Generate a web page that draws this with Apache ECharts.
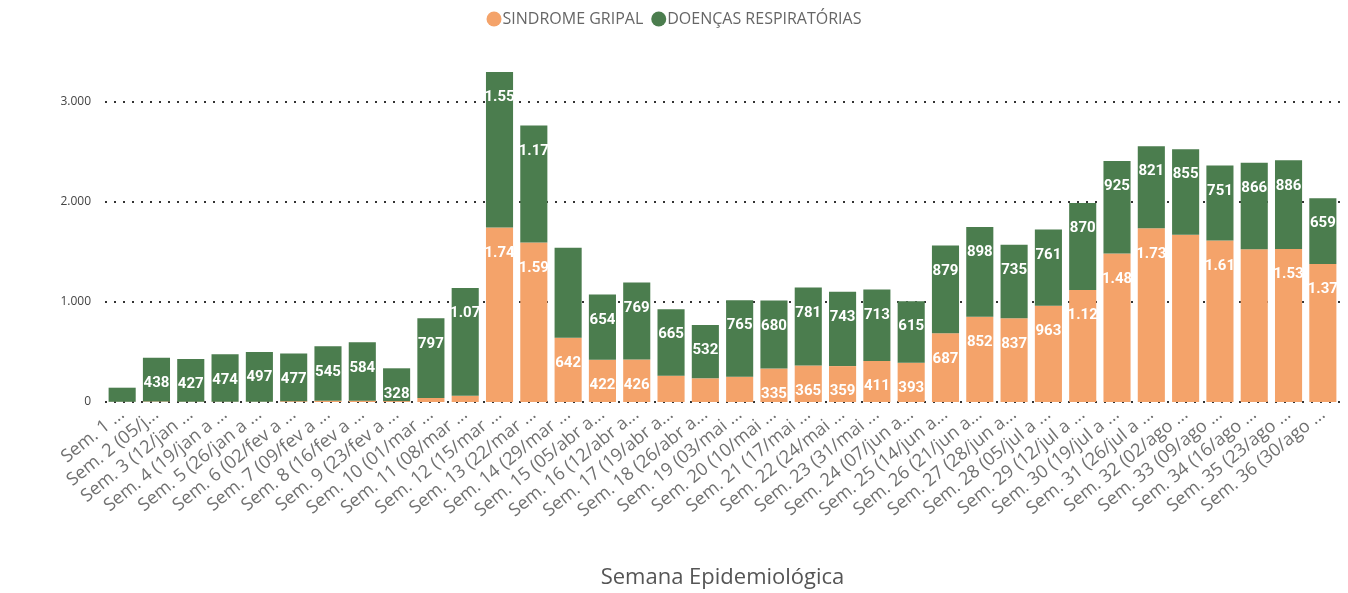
<!DOCTYPE html>
<html>
<head>
<meta charset="utf-8">
<script src="https://cdn.jsdelivr.net/npm/echarts@6/dist/echarts.min.js"></script>
<style>
  html, body { margin: 0; padding: 0; background: #ffffff; }
  #chart { width: 1348px; height: 593px; }
</style>
</head>
<body>
<div id="chart"></div>
<script>
const weeks = [
  'Sem. 1 ...', 'Sem. 2 (05/j...', 'Sem. 3 (12/jan ...', 'Sem. 4 (19/jan a ...',
  'Sem. 5 (26/jan a ...', 'Sem. 6 (02/fev a ...', 'Sem. 7 (09/fev a ...', 'Sem. 8 (16/fev a ...',
  'Sem. 9 (23/fev a ...', 'Sem. 10 (01/mar ...', 'Sem. 11 (08/mar ...', 'Sem. 12 (15/mar ...',
  'Sem. 13 (22/mar ...', 'Sem. 14 (29/mar ...', 'Sem. 15 (05/abr a...', 'Sem. 16 (12/abr a...',
  'Sem. 17 (19/abr a...', 'Sem. 18 (26/abr a...', 'Sem. 19 (03/mai ...', 'Sem. 20 (10/mai ...',
  'Sem. 21 (17/mai ...', 'Sem. 22 (24/mai ...', 'Sem. 23 (31/mai ...', 'Sem. 24 (07/jun a...',
  'Sem. 25 (14/jun a...', 'Sem. 26 (21/jun a...', 'Sem. 27 (28/jun a...', 'Sem. 28 (05/jul a ...',
  'Sem. 29 (12/jul a ...', 'Sem. 30 (19/jul a ...', 'Sem. 31 (26/jul a ...', 'Sem. 32 (02/ago ...',
  'Sem. 33 (09/ago ...', 'Sem. 34 (16/ago ...', 'Sem. 35 (23/ago ...', 'Sem. 36 (30/ago ...'
]

// SINDROME GRIPAL
const gripal = [
  2, 5, 3, 3, 3, 8, 12, 13, 9, 40, 62, 1746,
  1594, 642, 422, 426, 263, 237, 253, 335, 365, 359, 411, 393,
  687, 852, 837, 963, 1121, 1484, 1737, 1673, 1614, 1527, 1531, 1379
]

// DOENÇAS RESPIRATÓRIAS
const respiratorias = [
  141, 438, 427, 474, 497, 477, 545, 584, 328, 797, 1078, 1553,
  1172, 901, 654, 769, 665, 532, 765, 680, 781, 743, 713, 615,
  879, 898, 735, 761, 870, 925, 821, 855, 751, 866, 886, 659
]

// labels that the original leaves out (0-based bar index)
const gripalNoLabel = [0, 1, 2, 3, 4, 5, 6, 7, 8, 9, 10, 16, 17, 18, 31, 33]
const respNoLabel = [0, 13]

const yTicks = [0, 1000, 2000, 3000]

const fmt = v => String(v).replace(/\B(?=(\d{3})+(?!\d))/g, '.')

const labelStyle = {
  show: true,
  position: 'insideTop',
  distance: 18,
  color: '#ffffff',
  fontFamily: 'Roboto, sans-serif',
  fontWeight: 'bold',
  fontSize: 15,
  width: 33,
  overflow: 'truncate',
  ellipsis: '',
  formatter: p => fmt(p.value)
}

function toData (values, hidden) {
  return values.map((v, i) => hidden.includes(i) ? { value: v, label: { show: false } } : v)
}

const chart = echarts.init(document.getElementById('chart'))

chart.setOption({
  animation: false,
  textStyle: { fontFamily: '"Open Sans", "Noto Sans", sans-serif' },
  legend: {
    top: 6,
    left: 'center',
    icon: 'circle',
    itemWidth: 15,
    itemHeight: 15,
    itemGap: 8,
    textStyle: { color: '#666666', fontSize: 16, padding: [0, 0, 0, -4] },
    data: ['SINDROME GRIPAL', 'DOENÇAS RESPIRATÓRIAS']
  },
  grid: {
    left: 105,
    right: 8,
    top: 52,
    bottom: 191,
    outerBoundsMode: 'none',
    containLabel: false
  },
  xAxis: {
    type: 'category',
    data: weeks,
    name: 'Semana Epidemiológica',
    nameLocation: 'middle',
    nameGap: 165,
    nameTextStyle: { color: '#555555', fontSize: 22 },
    axisLine: { show: false },
    axisTick: { show: false },
    axisLabel: {
      interval: 0,
      rotate: 39,
      margin: 10,
      color: '#707070',
      fontSize: 18
    }
  },
  yAxis: {
    type: 'value',
    min: 0,
    max: 3500,
    interval: 1000,
    axisLine: { show: false },
    axisTick: { show: false },
    axisLabel: {
      showMaxLabel: false,
      color: '#444444',
      fontSize: 12,
      margin: 14,
      formatter: v => yTicks.includes(v) ? fmt(v) : ''
    },
    splitLine: {
      show: true,
      showMaxLine: false,
      lineStyle: { color: '#333333', width: 2, type: [2, 7] }
    }
  },
  series: [
    {
      name: 'SINDROME GRIPAL',
      type: 'bar',
      stack: 'total',
      barWidth: '79%',
      itemStyle: { color: '#F4A36A' },
      label: labelStyle,
      data: toData(gripal, gripalNoLabel)
    },
    {
      name: 'DOENÇAS RESPIRATÓRIAS',
      type: 'bar',
      stack: 'total',
      barWidth: '79%',
      itemStyle: { color: '#4B7D4E' },
      label: labelStyle,
      data: toData(respiratorias, respNoLabel)
    }
  ]
})
</script>
</body>
</html>
